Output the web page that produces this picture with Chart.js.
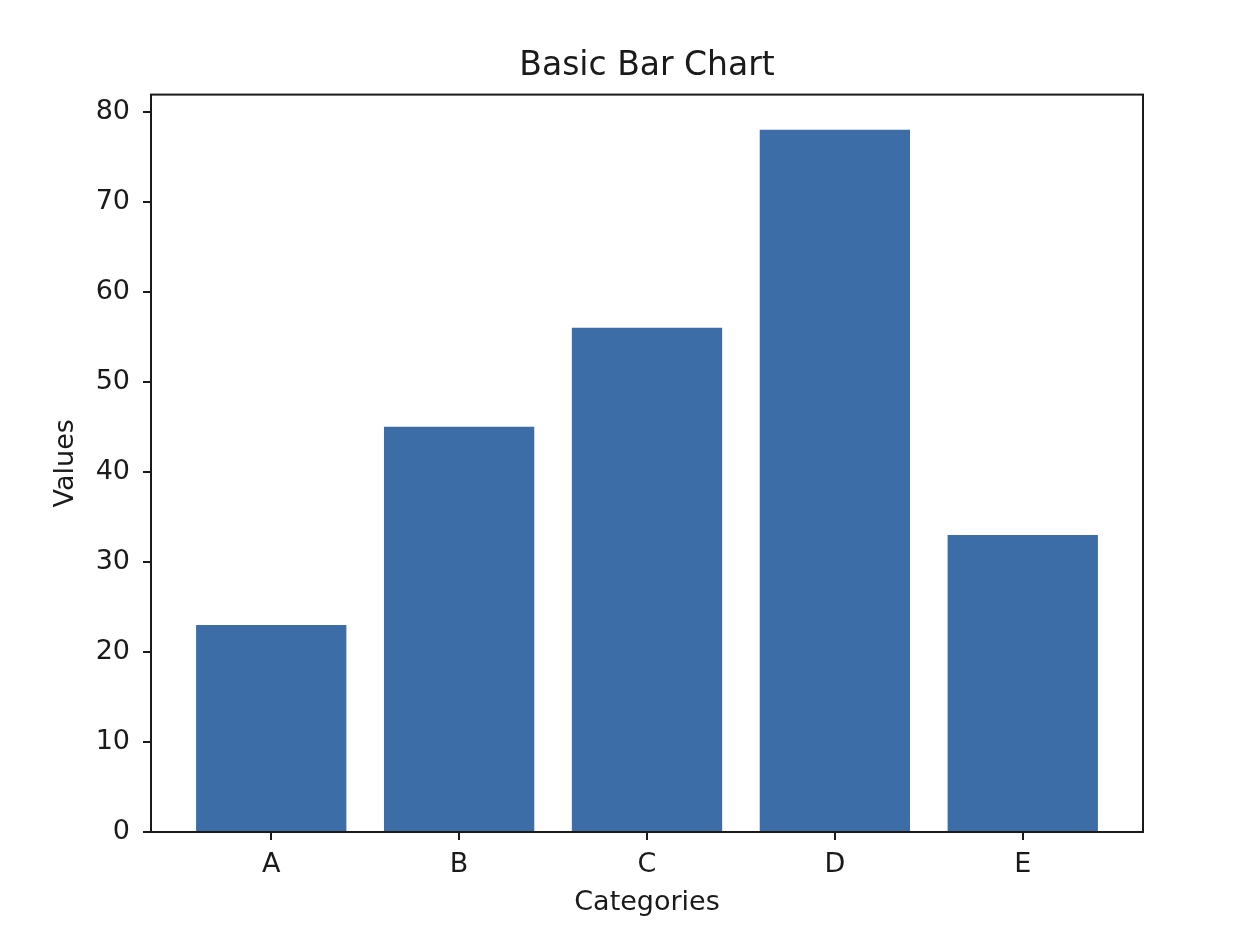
<!DOCTYPE html>
<html>
<head>
<meta charset="utf-8">
<title>Basic Bar Chart</title>
<script src="https://cdn.jsdelivr.net/npm/chart.js@4/dist/chart.umd.min.js"></script>
<style>
  html, body { margin: 0; padding: 0; background: #fff; }
  canvas { display: block; }
</style>
</head>
<body>
<canvas id="chart" width="1258" height="934"></canvas>
<script>
const categories = ['A', 'B', 'C', 'D', 'E']
const values = [23, 45, 56, 78, 33]
const yTicks = [0, 10, 20, 30, 40, 50, 60, 70, 80]

const ink = '#1a1a1a'
const font = { family: 'DejaVu Sans', size: 27 }

// matplotlib puts a full box round the axes, Chart.js only draws the two scale borders
const frame = {
  id: 'frame',
  afterDraw(chart) {
    const { ctx, chartArea: a } = chart
    ctx.save()
    ctx.strokeStyle = ink
    ctx.lineWidth = 2
    ctx.strokeRect(a.left, a.top, a.right - a.left, a.bottom - a.top)
    ctx.restore()
  }
}

new Chart(document.getElementById('chart'), {
  type: 'bar',
  data: {
    datasets: [{
      data: values.map((v, i) => ({ x: i, y: v })),
      backgroundColor: '#3c6da6',
      borderWidth: 0,
      categoryPercentage: 1,
      barPercentage: 0.8
    }]
  },
  plugins: [frame],
  options: {
    responsive: false,
    animation: false,
    layout: { padding: { left: 50, right: 115, top: 0, bottom: 15 } },
    plugins: {
      legend: { display: false },
      tooltip: { enabled: false },
      title: {
        display: true,
        // centred over the plot, not the whole canvas
        fullSize: false,
        text: 'Basic Bar Chart',
        color: ink,
        font: { family: 'DejaVu Sans', size: 33, weight: 'normal' },
        padding: { top: 47, bottom: 8 }
      }
    },
    scales: {
      x: {
        type: 'linear',
        offset: false,
        min: -0.64,
        max: 4.64,
        afterBuildTicks: (axis) => {
          axis.ticks = categories.map((_, i) => ({ value: i }))
        },
        afterFit: (axis) => { axis.height = 87 },
        grid: { offset: false, drawOnChartArea: false, color: ink, lineWidth: 2, tickLength: 8 },
        border: { display: true, color: ink, width: 2 },
        ticks: {
          color: ink,
          font,
          padding: 9,
          maxRotation: 0,
          callback: (value) => categories[value]
        },
        title: { display: true, text: 'Categories', color: ink, font, padding: 0 }
      },
      y: {
        min: 0,
        max: 81.9,
        afterBuildTicks: (axis) => {
          axis.ticks = yTicks.map((value) => ({ value }))
        },
        afterFit: (axis) => { axis.width = 101 },
        grid: { drawOnChartArea: false, color: ink, lineWidth: 2, tickLength: 8 },
        border: { display: true, color: ink, width: 2 },
        ticks: { color: ink, font, padding: 13 },
        title: { display: true, text: 'Values', color: ink, font, padding: 0 }
      }
    }
  }
})
</script>
</body>
</html>
